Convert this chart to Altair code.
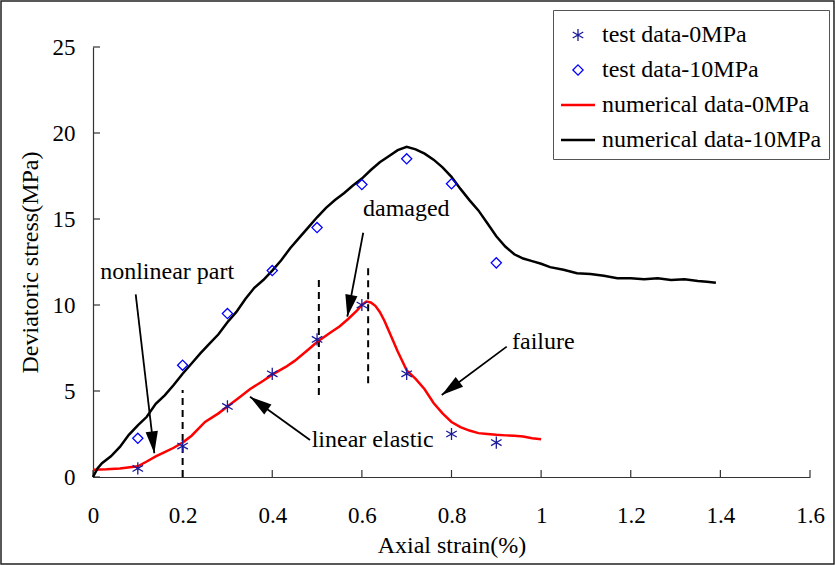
import math
import altair as alt
import pandas as pd

# ---------------- data ----------------
series_names = ["test data-0MPa", "test data-10MPa", "numerical data-0MPa", "numerical data-10MPa"]

test_x = [0.1, 0.2, 0.3, 0.4, 0.5, 0.6, 0.7, 0.8, 0.9]
test0_y = [0.5, 1.8, 4.1, 6.0, 8.0, 10.0, 6.0, 2.5, 2.0]
test10_y = [2.25, 6.5, 9.5, 12.0, 14.5, 17.0, 18.5, 17.05, 12.45]

num0_x = [0.00, 0.03, 0.06, 0.10, 0.12, 0.14, 0.16, 0.18, 0.20, 0.22, 0.25, 0.28, 0.30, 0.33,
          0.35, 0.38, 0.40, 0.43, 0.45, 0.48, 0.50, 0.53, 0.55, 0.57, 0.59, 0.60, 0.61, 0.62,
          0.63, 0.64, 0.65, 0.66, 0.68, 0.70, 0.72, 0.74, 0.76, 0.78, 0.80, 0.82, 0.84, 0.86,
          0.88, 0.90, 0.92, 0.94, 0.96, 0.98, 1.00]
num0_y = [0.42, 0.45, 0.50, 0.62, 0.90, 1.20, 1.45, 1.70, 2.00, 2.40, 3.20, 3.70, 4.10, 4.70,
          5.10, 5.60, 5.95, 6.40, 6.75, 7.40, 7.85, 8.40, 8.75, 9.20, 9.70, 10.00, 10.20, 10.15,
          9.95, 9.60, 9.10, 8.50, 7.30, 6.20, 5.70, 5.10, 4.30, 3.70, 3.20, 2.90, 2.70, 2.55,
          2.50, 2.45, 2.42, 2.40, 2.35, 2.25, 2.20]

num10_x = [0.00, 0.01, 0.02, 0.04, 0.06, 0.08, 0.10, 0.12, 0.14, 0.16, 0.18, 0.20, 0.22, 0.24,
           0.26, 0.28, 0.30, 0.32, 0.34, 0.36, 0.38, 0.40, 0.42, 0.44, 0.46, 0.48, 0.50, 0.52,
           0.54, 0.56, 0.58, 0.60, 0.62, 0.64, 0.66, 0.68, 0.70, 0.72, 0.74, 0.76, 0.78, 0.80,
           0.82, 0.84, 0.86, 0.88, 0.90, 0.92, 0.94, 0.96, 0.98, 1.00, 1.02, 1.05, 1.08, 1.11,
           1.14, 1.17, 1.20, 1.23, 1.26, 1.29, 1.32, 1.35, 1.37, 1.39]
num10_y = [0.00, 0.50, 0.80, 1.20, 1.75, 2.45, 3.00, 3.50, 4.25, 4.75, 5.35, 6.00, 6.60, 7.20,
           7.75, 8.30, 9.00, 9.60, 10.35, 11.00, 11.45, 12.00, 12.60, 13.30, 13.90, 14.50, 15.10,
           15.65, 16.10, 16.50, 16.95, 17.35, 17.85, 18.30, 18.65, 19.00, 19.20, 19.05, 18.80,
           18.45, 18.00, 17.45, 16.75, 16.10, 15.50, 14.75, 14.00, 13.40, 12.95, 12.70, 12.55,
           12.40, 12.20, 12.05, 11.85, 11.80, 11.70, 11.55, 11.55, 11.50, 11.55, 11.45, 11.50,
           11.40, 11.35, 11.30]

# annotations (data coordinates)
label_text = ["nonlinear part", "damaged", "linear elastic", "failure"]
label_x = [0.016, 0.6025, 0.488, 0.935]
label_y = [11.9, 15.6, 2.15, 7.85]

arrow_x0 = [0.0953, 0.603, 0.4843, 0.9232]
arrow_y0 = [10.62, 14.20, 2.15, 7.58]
arrow_x1 = [0.1368, 0.5675, 0.3504, 0.7782]
arrow_y1 = [1.38, 9.32, 4.67, 4.77]

dash_x = [0.2, 0.504, 0.614]
dash_y0 = [0.0, 4.77, 5.45]
dash_y1 = [5.06, 11.57, 12.2]

x_ticks = [0, 0.2, 0.4, 0.6, 0.8, 1.0, 1.2, 1.4, 1.6]
y_ticks = [0, 5, 10, 15, 20, 25]

# ---------------- layout / style ----------------
W, H = 717, 430
XMAX, YMAX = 1.6, 25
FONT = "Liberation Serif"
# symbol paths drawn inside a common symbol box (size 1156 -> radius 17 px)
ASTERISK = "M0,-0.36L0,0.36M-0.31,-0.18L0.31,0.18M-0.31,0.18L0.31,-0.18"
DIAMOND = "M0,-0.3L0.3,0L0,0.3L-0.3,0Z"
LINESYM = "M-1,-0.03L1,-0.03M-1,0.03L1,0.03"
ARROWHEAD = "M0,0L-0.28,1L0.28,1Z"

pts = pd.DataFrame({
    "x": test_x + test_x,
    "y": test0_y + test10_y,
    "series": [series_names[0]] * len(test_x) + [series_names[1]] * len(test_x),
})
lines = pd.DataFrame({
    "x": num0_x + num10_x,
    "y": num0_y + num10_y,
    "series": [series_names[2]] * len(num0_x) + [series_names[3]] * len(num10_x),
})

px_x, px_y = W / XMAX, H / YMAX
angles = []
for a, b, c, d in zip(arrow_x0, arrow_y0, arrow_x1, arrow_y1):
    dxs = (c - a) * px_x
    dys = -(d - b) * px_y
    angles.append(math.degrees(math.atan2(dxs, -dys)) % 360)
arrows = pd.DataFrame({"x0": arrow_x0, "y0": arrow_y0, "x1": arrow_x1, "y1": arrow_y1, "angle": angles})
labels = pd.DataFrame({"x": label_x, "y": label_y, "t": label_text})
dashes = pd.DataFrame({"x": dash_x, "y0": dash_y0, "y1": dash_y1})

xscale = alt.Scale(domain=[0, XMAX], nice=False, zero=False)
yscale = alt.Scale(domain=[0, YMAX], nice=False, zero=False)

xaxis = alt.Axis(values=x_ticks, format="~g", title="Axial strain(%)", ticks=False, grid=False,
                 labelFont=FONT, labelFontSize=23, labelColor="black", labelPadding=27,
                 titleFont=FONT, titleFontSize=24, titleFontWeight="normal", titleColor="black",
                 titlePadding=6, domainColor="#333333", domainWidth=1.2, labelFlush=False)
yaxis = alt.Axis(values=y_ticks, title="Deviatoric stress(MPa)", ticks=False, grid=False,
                 labelFont=FONT, labelFontSize=23, labelColor="black", labelPadding=18,
                 titleFont=FONT, titleFontSize=24, titleFontWeight="normal", titleColor="black",
                 titlePadding=10, domainColor="#333333", domainWidth=1.2, labelFlush=False)

X = alt.X("x:Q", scale=xscale, axis=xaxis)
Y = alt.Y("y:Q", scale=yscale, axis=yaxis)

leg = alt.Legend(orient="none", legendX=460, legendY=-37, title=None,
                 labelFont=FONT, labelFontSize=24, labelColor="black", labelOffset=6,
                 labelLimit=600, strokeColor="#555555", fillColor="white", padding=7,
                 rowPadding=5, symbolSize=1156, symbolStrokeWidth=1.3)

sdom = alt.Scale(domain=series_names, range=["#1a1a9a", "#0000ff", "#ff0000", "#000000"])
shape_s = alt.Scale(domain=series_names, range=[ASTERISK, DIAMOND, LINESYM, LINESYM])

line_layer = alt.Chart(lines).mark_line(strokeWidth=2.5).encode(
    x=X, y=Y,
    color=alt.Color("series:N", scale=sdom, legend=leg),
    detail="series:N",
)

point_layer = alt.Chart(pts).mark_point(filled=False, opacity=1, size=1156, strokeWidth=1.3).encode(
    x=X, y=Y,
    color=alt.Color("series:N", scale=sdom, legend=leg),
    shape=alt.Shape("series:N", scale=shape_s, legend=leg),
)

dash_layer = alt.Chart(dashes).mark_rule(color="black", strokeWidth=2, strokeDash=[7, 5]).encode(
    x=alt.X("x:Q", scale=xscale), y=alt.Y("y0:Q", scale=yscale), y2="y1:Q"
)

arrow_lines = alt.Chart(arrows).mark_rule(color="black", strokeWidth=1.8).encode(
    x=alt.X("x0:Q", scale=xscale), y=alt.Y("y0:Q", scale=yscale), x2="x1:Q", y2="y1:Q"
)
arrow_heads = alt.Chart(arrows).mark_point(shape=ARROWHEAD, filled=True, color="black",
                                           size=1936, opacity=1).encode(
    x=alt.X("x1:Q", scale=xscale), y=alt.Y("y1:Q", scale=yscale),
    angle=alt.Angle("angle:Q", scale=None),
)

text_layer = alt.Chart(labels).mark_text(font=FONT, fontSize=24, align="left", baseline="middle",
                                          color="black").encode(
    x=alt.X("x:Q", scale=xscale), y=alt.Y("y:Q", scale=yscale), text="t:N"
)

xtick_layer = alt.Chart(pd.DataFrame({"v": x_ticks})).mark_rule(color="#333333", strokeWidth=1.2).encode(
    x=alt.X("v:Q", scale=xscale), y=alt.value(H), y2=alt.value(H - 7)
)
ytick_layer = alt.Chart(pd.DataFrame({"v": y_ticks})).mark_rule(color="#333333", strokeWidth=1.2).encode(
    y=alt.Y("v:Q", scale=yscale), x=alt.value(0), x2=alt.value(7)
)

frame = alt.Chart(pd.DataFrame({"k": [0]})).mark_rect(filled=False, stroke="#222222", strokeWidth=1.5).encode(
    x=alt.value(-92), x2=alt.value(W + 24), y=alt.value(-46), y2=alt.value(H + 87)
)

chart = alt.layer(
    frame, xtick_layer, ytick_layer, dash_layer, line_layer, point_layer,
    arrow_lines, arrow_heads, text_layer
).properties(
    width=W, height=H,
    autosize=alt.AutoSizeParams(type="none"),
    padding={"left": 93, "top": 47, "right": 25, "bottom": 88},
    background="white",
).configure_view(stroke=None)

chart.save("out.html", embed_options={"renderer": "svg", "actions": False})
